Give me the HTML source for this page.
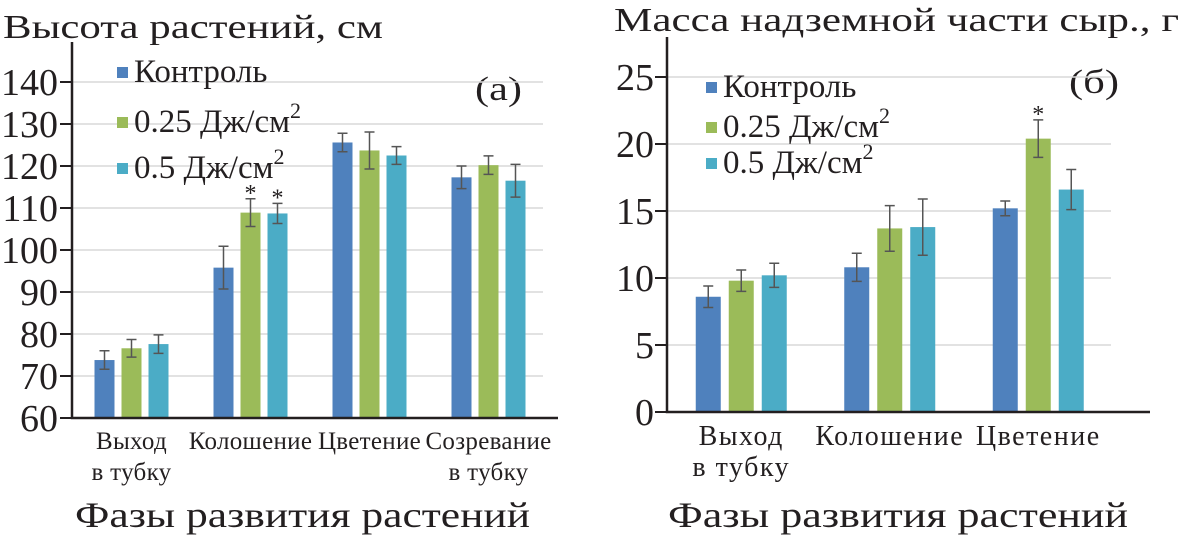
<!DOCTYPE html>
<html><head><meta charset="utf-8">
<style>
body{margin:0;background:#fff;}
svg{display:block;font-family:"Liberation Serif","DejaVu Serif",serif;}
</style></head>
<body>
<svg id="c" width="1183" height="539" viewBox="0 0 1183 539">
<text x="3" y="38" font-size="34" textLength="380" lengthAdjust="spacingAndGlyphs" fill="#231f20">Высота растений, см</text>
<text x="614" y="31" font-size="34" textLength="565" lengthAdjust="spacingAndGlyphs" fill="#231f20">Масса надземной части сыр., г</text>
<text x="475" y="100" font-size="34" textLength="47" lengthAdjust="spacingAndGlyphs" fill="#231f20">(а)</text>
<text x="1069" y="93" font-size="34" textLength="50" lengthAdjust="spacingAndGlyphs" fill="#231f20">(б)</text>
<text x="75" y="527" font-size="36" textLength="455" lengthAdjust="spacingAndGlyphs" fill="#231f20">Фазы развития растений</text>
<text x="668" y="527" font-size="36" textLength="460" lengthAdjust="spacingAndGlyphs" fill="#231f20">Фазы развития растений</text>
</svg>
<script>
const catsA=[["Выход","в тубку"],["Колошение"],["Цветение"],["Созревание","в тубку"]];
const ctrlA=[73.8,95.8,125.6,117.3];
const lowA=[76.6,108.9,123.7,120.2];
const highA=[77.6,108.7,122.5,116.5];
const ctrlErrA=[2.2,5.1,2.2,2.7];
const lowErrA=[2.1,3.3,4.4,2.2];
const highErrA=[2.2,2.4,2.1,3.9];
const starsA=[[0,0,0,0],[0,1,0,0],[0,1,0,0]];
const ticksA=[60,70,80,90,100,110,120,130,140];

const catsB=[["Выход","в тубку"],["Колошение"],["Цветение"]];
const ctrlB=[8.6,10.8,15.2];
const lowB=[9.8,13.7,20.4];
const highB=[10.2,13.8,16.6];
const ctrlErrB=[0.8,1.05,0.55];
const lowErrB=[0.8,1.7,1.4];
const highErrB=[0.9,2.1,1.5];
const starsB=[[0,0,0],[0,0,1],[0,0,0]];
const ticksB=[0,5,10,15,20,25];

const seriesNames=["Контроль","0.25 Дж/см","0.5 Дж/см"];
const colors=["#4f81bd","#9bbb59","#4bacc6"];
const svg=document.getElementById('c');
const NS="http://www.w3.org/2000/svg";
function mk(t,a,p){const e=document.createElementNS(NS,t);for(const k in a)e.setAttribute(k,a[k]);(p||svg).appendChild(e);return e;}

function chart(o){
  const g=mk('g',{});
  
  
  const y=v=>o.y0-(v-o.vmin)/(o.vmax-o.vmin)*(o.y0-o.y1);
  const bw=o.cw;
  o.ticks.forEach(t=>{
    if(t!==o.vmin){const gl=mk('line',{x1:o.x0,x2:o.gx,y1:y(t),y2:y(t),stroke:'#d9d9d9','stroke-width':1.5},g);
      }
    const tk=mk('line',{x1:o.x0-12,x2:o.x0,y1:y(t),y2:y(t),stroke:'#231f20','stroke-width':2},g);
    
    const tl=mk('text',{x:o.tx,y:y(t)+13,'font-size':38,'text-anchor':'end',fill:'#231f20'},g);
    tl.textContent=t;
    
  });
  const series=[o.s0,o.s1,o.s2],errs=[o.e0,o.e1,o.e2];
  o.cats.forEach((c,i)=>{
    const cx=o.x0+bw*(i+0.5);
    series.forEach((s,j)=>{
      const bx=cx+(j-1)*(o.barW+o.gap)-o.barW/2;
      const b=mk('rect',{x:bx,y:y(s[i]),width:o.barW,height:o.y0-y(s[i]),fill:colors[j]},g);
      
      
      const mx=bx+o.barW/2,t=y(s[i]+errs[j][i]),bt=y(s[i]-errs[j][i]);
      const eb=mk('path',{d:`M${mx-5},${t}H${mx+5}M${mx},${t}V${bt}M${mx-5},${bt}H${mx+5}`,stroke:'#555','stroke-width':1.5,fill:'none'},g);
      
      
      if(o.stars[j][i]){const st=mk('text',{x:mx,y:t+2,'font-size':24,'text-anchor':'middle',fill:'#231f20'},g);st.textContent='*';
        }
    });
    c.forEach((ln,k)=>{
      const tl=mk('text',{x:cx,y:o.y0+o.ly0+k*31,'font-size':o.lf,'letter-spacing':o.ls,'text-anchor':'middle',fill:'#231f20'},g);
      tl.textContent=ln;
      
      
    });
  });
  const ax=mk('path',{d:`M${o.x0},${o.y1-40}V${o.y0}H${o.ax}`,stroke:'#231f20','stroke-width':2.5,fill:'none'},g);
  
  
  seriesNames.forEach((n,j)=>{
    const ly=o.ly[j];
    const r=mk('rect',{x:o.lx,y:ly-15,width:11,height:11,fill:colors[j]},g);
    
    const t=mk('text',{x:o.lx+17,y:ly,'font-size':33,fill:'#231f20'},g);
    t.textContent=n;
    
    if(j>0){const s=mk('tspan',{dy:-14,'font-size':22},t);s.textContent='2';}
  });
}
chart({id:'chart-a',cats:catsA,s0:ctrlA,s1:lowA,s2:highA,e0:ctrlErrA,e1:lowErrA,e2:highErrA,stars:starsA,ticks:ticksA,
  vmin:60,vmax:140,x0:72,y0:418,y1:82,cw:119,barW:20,gap:7,gx:543,ax:558,tx:58,lx:117,ly:[82,132,178],lf:25,ls:0.3,ly0:31});
chart({id:'chart-b',cats:catsB,s0:ctrlB,s1:lowB,s2:highB,e0:ctrlErrB,e1:lowErrB,e2:highErrB,stars:starsB,ticks:ticksB,
  vmin:0,vmax:25,x0:667,y0:412,y1:77,cw:148.5,barW:25,gap:8,gx:1111,ax:1150,tx:654,lx:706,ly:[97,137,173],lf:28,ls:1.5,ly0:33});
</script>
</body></html>
